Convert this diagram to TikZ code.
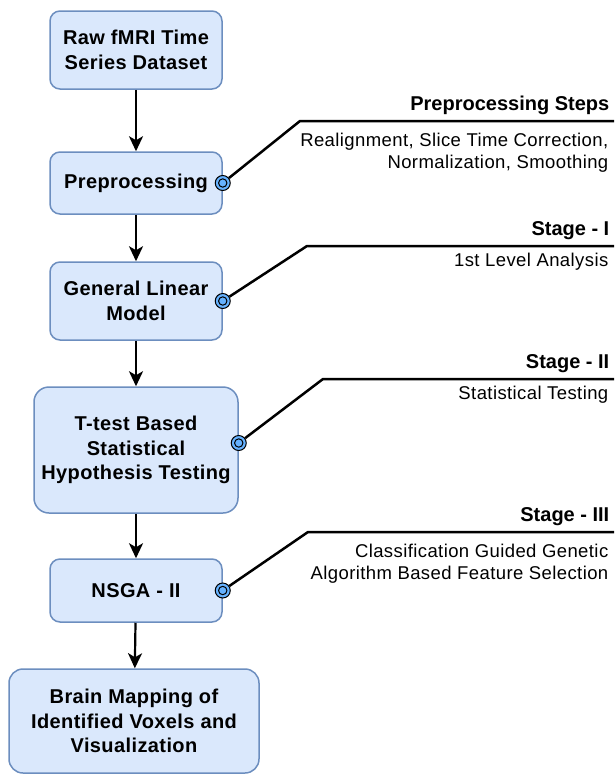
\documentclass[tikz,border=0pt]{standalone}
\usepackage{fontspec}
\setmainfont{Liberation Sans}
\newfontfamily\boxfont[LetterSpace=2]{Liberation Sans}
\newfontfamily\notefont[LetterSpace=2.2]{Liberation Sans}
\usetikzlibrary{arrows.meta}
\definecolor{boxfill}{HTML}{DAE8FC}
\definecolor{boxline}{HTML}{6C8EBF}
\definecolor{portfill}{HTML}{66B2FF}

\begin{document}
\begin{tikzpicture}[x=1pt, y=-1pt,
    box/.style={draw=boxline, fill=boxfill, line width=1.5pt, rounded corners=10pt, align=center, inner sep=0pt, font=\boxfont\fontsize{20}{24.5}\selectfont\bfseries},
    flow/.style={-{Stealth[length=15pt, width=14pt, inset=4pt]}, line width=2.2pt},
    port/.style={circle, draw, fill=portfill, line width=1pt, minimum size=15pt, inner sep=0pt, path picture={\draw[line width=1pt] (path picture bounding box.center) circle (4.2pt);}},
    callout/.style={line width=2.5pt},
    heading/.style={anchor=base east, inner sep=0pt, font=\fontsize{20}{24}\selectfont\bfseries},
    detail/.style={anchor=north east, inner sep=0pt, align=right, font=\notefont\fontsize{18.5}{22.5}\selectfont}]
    \useasboundingbox (0,0) rectangle (614,774);
    \node[box, minimum width=172pt, minimum height=78pt] (raw) at (136,50) {Raw fMRI Time\\Series Dataset};
    \node[box, minimum width=172pt, minimum height=62pt] (pre) at (136,183) {Preprocessing};
    \node[box, minimum width=172pt, minimum height=78pt] (glm) at (136,301) {General Linear\\Model};
    \node[box, minimum width=204pt, minimum height=126pt, rounded corners=15pt] (ttest) at (136,450) {T-test Based\\Statistical\\Hypothesis Testing};
    \node[box, minimum width=172pt, minimum height=63pt] (nsga) at (136,590.5) {NSGA - II};
    \node[box, minimum width=250pt, minimum height=104pt, rounded corners=14pt] (brain) at (134,721) {Brain Mapping of\\Identified Voxels and\\Visualization};

    \draw[flow] (raw) -- (pre);
    \draw[flow] (pre) -- (glm);
    \draw[flow] (glm) -- (ttest);
    \draw[flow] (ttest) -- (nsga);
    \draw[flow] (nsga) -- (brain);

    \coordinate (k1) at (300,121);
    \coordinate (e1) at (614,121);
    \coordinate (k2) at (307,246);
    \coordinate (e2) at (614,246);
    \coordinate (k3) at (323,379);
    \coordinate (e3) at (614,379);
    \coordinate (k4) at (308,532);
    \coordinate (e4) at (614,532);

    \node[port] (p1) at (pre.east) {};
    \node[port] (p2) at (glm.east) {};
    \node[port] (p3) at ([yshift=7pt]ttest.east) {};
    \node[port] (p4) at (nsga.east) {};
    \draw[callout] (p1) -- (k1) -- (e1);
    \draw[callout] (p2) -- (k2) -- (e2);
    \draw[callout] (p3) -- (k3) -- (e3);
    \draw[callout] (p4) -- (k4) -- (e4);

    \node[heading] (h1) at ([shift={(-4.5,-10.5)}]e1) {Preprocessing Steps};
    \node[heading] (h2) at ([shift={(-4.5,-10.5)}]e2) {Stage - I};
    \node[heading] (h3) at ([shift={(-4.5,-10.5)}]e3) {Stage - II};
    \node[heading] (h4) at ([shift={(-4.5,-10.5)}]e4) {Stage - III};

    \node[detail] (d1) at ([shift={(-5.5,11.5)}]e1) {Realignment, Slice Time Correction,\\Normalization, Smoothing};
    \node[detail] (d2) at ([shift={(-5.5,6.5)}]e2) {1st Level Analysis};
    \node[detail] (d3) at ([shift={(-5.5,6.5)}]e3) {Statistical Testing};
    \node[detail] (d4) at ([shift={(-5.5,11.5)}]e4) {Classification Guided Genetic\\Algorithm Based Feature Selection};
\end{tikzpicture}
\end{document}
